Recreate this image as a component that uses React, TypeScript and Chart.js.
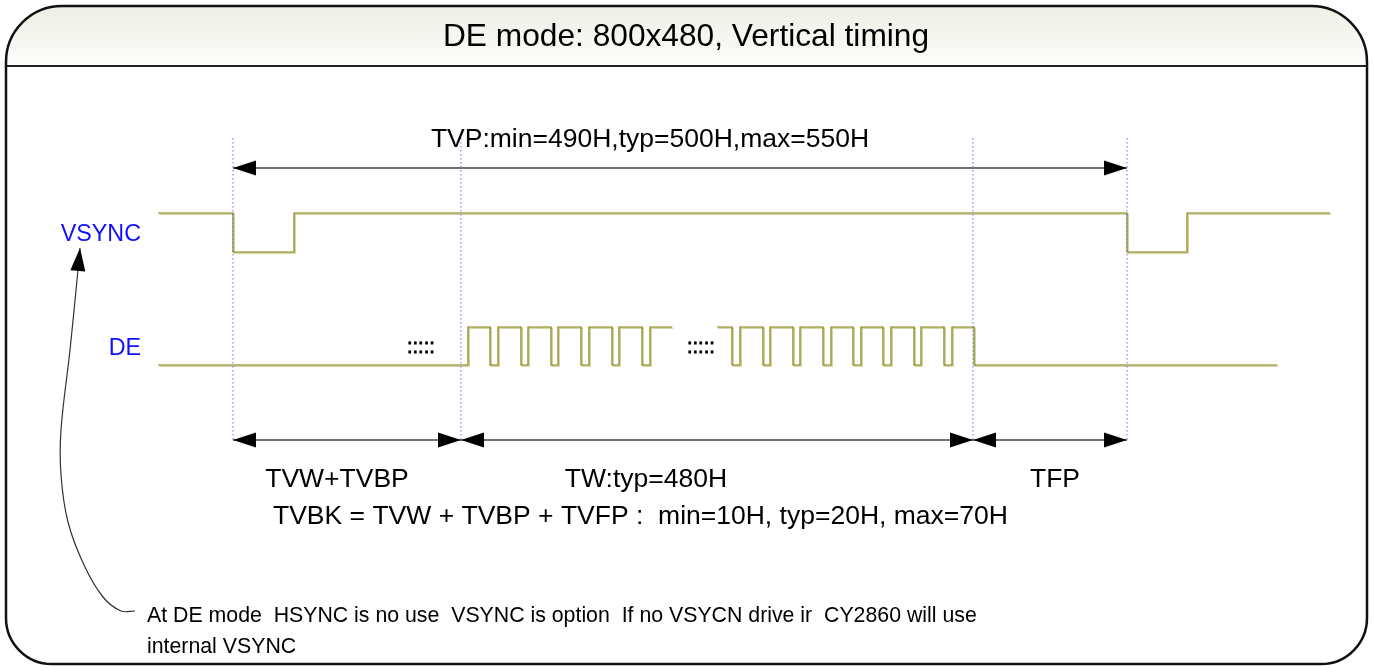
import React, { useEffect, useRef } from "react";
import { Chart, registerables } from "chart.js";

Chart.register(...registerables);

// ---------------- data ----------------
const titleText = "DE mode: 800x480, Vertical timing";
const signalNames = ["VSYNC", "DE"];

// VSYNC: transition times and the level that starts at each time
const vsyncEdges = [158, 233, 294, 1127, 1187, 1330];
const vsyncLevels = [1, 0, 1, 0, 1, 1];

// DE: first burst of lines (before the ellipsis)
const deEdgesA = [158, 468, 490, 498, 521, 528, 551, 558, 581, 589, 612, 619, 642, 650, 672];
const deLevelsA = [0, 1, 0, 1, 0, 1, 0, 1, 0, 1, 0, 1, 0, 1, 1];
// DE: second burst (after the ellipsis) and front porch
const deEdgesB = [717, 732, 740, 763, 770, 793, 800, 823, 831, 853, 861, 883, 891, 914, 921, 944, 952, 974, 1277];
const deLevelsB = [1, 0, 1, 0, 1, 0, 1, 0, 1, 0, 1, 0, 1, 0, 1, 0, 1, 0, 0];

// boundaries between phases
const markerTimes = [233, 461, 973, 1127];
const periodSpan = [233, 1127];
const phaseSpans = [
  [233, 461],
  [461, 973],
  [973, 1127],
];
const periodLabel = "TVP:min=490H,typ=500H,max=550H";
const phaseLabels = ["TVW+TVBP", "TW:typ=480H", "TFP"];
const blankingFormula = "TVBK = TVW + TVBP + TVFP :  min=10H, typ=20H, max=70H";
const ellipsisRow = ".....";
const ellipsisTimes = [407, 687];
const noteLines = [
  "At DE mode  HSYNC is no use  VSYNC is option  If no VSYCN drive ir  CY2860 will use",
  "internal VSYNC",
];
// leader curve from the note up to the VSYNC label (tip first)
const noteCurveX = [80, 77, 70, 61, 61, 68, 84, 103, 121, 135];
const noteCurveY = [248, 280, 350, 430, 475, 522, 565, 597, 611, 611];

// ---------------- layout ----------------
const W = 1374;
const H = 666;
const LANES = {
  VSYNC: { high: 213, low: 252 },
  DE: { high: 327, low: 365 },
};
const MARKER_TOP = 138;
const PERIOD_Y = 168;
const PHASE_Y = 440;
const FONT = "'Liberation Sans', Arial, sans-serif";
const WAVE = "#80800c";
const WAVE_SHADOW = "rgba(190,190,120,0.85)";
const ARROW_LINE = "#707070";

function wave(edges: number[], levels: number[], lane: { high: number; low: number }) {
  return edges.map((x, i) => ({ x, y: levels[i] ? lane.high : lane.low }));
}

function framePath(ctx: CanvasRenderingContext2D, l: number, t: number, r: number, b: number, rt: number, rb: number) {
  ctx.beginPath();
  ctx.moveTo(l + rt, t);
  ctx.lineTo(r - rt, t);
  ctx.arcTo(r, t, r, t + rt, rt);
  ctx.lineTo(r, b - rb);
  ctx.arcTo(r, b, r - rb, b, rb);
  ctx.lineTo(l + rb, b);
  ctx.arcTo(l, b, l, b - rb, rb);
  ctx.lineTo(l, t + rt);
  ctx.arcTo(l, t, l + rt, t, rt);
  ctx.closePath();
}

function drawHead(ctx: CanvasRenderingContext2D, tx: number, ty: number, fx: number, fy: number) {
  const len = 23;
  const half = 7.5;
  let dx = tx - fx;
  let dy = ty - fy;
  const d = Math.hypot(dx, dy) || 1;
  dx /= d;
  dy /= d;
  const bx = tx - dx * len;
  const by = ty - dy * len;
  ctx.beginPath();
  ctx.moveTo(tx, ty);
  ctx.lineTo(bx - dy * half, by + dx * half);
  ctx.lineTo(bx + dy * half, by - dx * half);
  ctx.closePath();
  ctx.fillStyle = "#000";
  ctx.fill();
}

const framePlugin = {
  id: "frame",
  beforeDraw(chart: any) {
    const ctx: CanvasRenderingContext2D = chart.ctx;
    const l = 6, t = 6, r = 1367, b = 664, hb = 66;
    ctx.save();
    ctx.fillStyle = "#fff";
    ctx.fillRect(0, 0, chart.width, chart.height);
    framePath(ctx, l, t, r, b, 56, 46);
    ctx.fillStyle = "#fff";
    ctx.fill();
    ctx.save();
    framePath(ctx, l, t, r, b, 56, 46);
    ctx.clip();
    const g = ctx.createLinearGradient(0, t, 0, hb);
    g.addColorStop(0, "#eeefe5");
    g.addColorStop(1, "#fdfdfb");
    ctx.fillStyle = g;
    ctx.fillRect(l, t, r - l, hb - t);
    ctx.restore();
    ctx.beginPath();
    ctx.moveTo(l, hb);
    ctx.lineTo(r, hb);
    ctx.lineWidth = 2;
    ctx.strokeStyle = "#222";
    ctx.stroke();
    framePath(ctx, l, t, r, b, 56, 46);
    ctx.lineWidth = 2.5;
    ctx.strokeStyle = "#111";
    ctx.stroke();
    ctx.restore();
  },
};

const shadowPlugin = {
  id: "waveShadow",
  beforeDatasetDraw(chart: any, args: any) {
    const ds = chart.data.datasets[args.index];
    if (!ds.waveShadow) return;
    const ctx = chart.ctx;
    ctx.save();
    ctx.shadowColor = WAVE_SHADOW;
    ctx.shadowOffsetX = 1.2;
    ctx.shadowOffsetY = 1.2;
    ctx.shadowBlur = 0;
  },
  afterDatasetDraw(chart: any, args: any) {
    const ds = chart.data.datasets[args.index];
    if (!ds.waveShadow) return;
    chart.ctx.restore();
  },
};

const annotatePlugin = {
  id: "annotate",
  afterDatasetsDraw(chart: any) {
    const ctx: CanvasRenderingContext2D = chart.ctx;
    const sx = chart.scales.x;
    const sy = chart.scales.y;
    const px = (v: number) => sx.getPixelForValue(v);
    const py = (v: number) => sy.getPixelForValue(v);

    // arrow heads
    chart.data.datasets.forEach((ds: any, i: number) => {
      const pts = chart.getDatasetMeta(i).data;
      if (!pts || pts.length < 2) return;
      if (ds.arrowStart) drawHead(ctx, pts[0].x, pts[0].y, pts[1].x, pts[1].y);
      if (ds.arrowEnd) {
        const n = pts.length;
        drawHead(ctx, pts[n - 1].x, pts[n - 1].y, pts[n - 2].x, pts[n - 2].y);
      }
    });

    ctx.save();
    ctx.textBaseline = "alphabetic";
    // title
    ctx.fillStyle = "#000";
    ctx.font = `31.7px ${FONT}`;
    ctx.textAlign = "center";
    ctx.fillText(titleText, 686, 46);

    // signal names
    ctx.fillStyle = "#1010ff";
    ctx.font = `23.3px ${FONT}`;
    ctx.textAlign = "right";
    ctx.fillText(signalNames[0], 141, 241);
    ctx.fillText(signalNames[1], 141, 355);

    // period label
    ctx.fillStyle = "#000";
    ctx.font = `26.5px ${FONT}`;
    ctx.textAlign = "center";
    ctx.fillText(periodLabel, 650, 147);

    // phase labels
    const phaseCenters = [337, 646, 1055];
    phaseLabels.forEach((s, i) => ctx.fillText(s, phaseCenters[i], 487));

    // formula
    ctx.textAlign = "left";
    ctx.fillText(blankingFormula, 273, 524);

    // ellipsis: two rows of dots
    ctx.font = `20px ${FONT}`;
    ctx.strokeStyle = "#000";
    ctx.lineWidth = 0.8;
    ellipsisTimes.forEach((x) => {
      [344, 353].forEach((yy) => {
        ctx.fillText(ellipsisRow, px(x), py(yy));
        ctx.strokeText(ellipsisRow, px(x), py(yy));
      });
    });

    // note
    ctx.font = `21.3px ${FONT}`;
    ctx.fillText(noteLines[0], 147, 622);
    ctx.fillText(noteLines[1], 147, 653);
    ctx.restore();
  },
};

export default function App() {
  const ref = useRef<HTMLCanvasElement | null>(null);

  useEffect(() => {
    if (!ref.current) return;
    const datasets: any[] = [];

    // phase markers (dotted)
    markerTimes.forEach((x) => {
      datasets.push({
        data: [
          { x, y: MARKER_TOP },
          { x, y: PHASE_Y },
        ],
        borderColor: "#6a6aff",
        borderWidth: 1,
        borderDash: [1.5, 2.5],
      });
    });

    // waveforms
    datasets.push({
      label: signalNames[0],
      data: wave(vsyncEdges, vsyncLevels, LANES.VSYNC),
      borderColor: WAVE,
      borderWidth: 1.2,
      stepped: true,
      waveShadow: true,
    });
    datasets.push({
      label: signalNames[1],
      data: wave(deEdgesA, deLevelsA, LANES.DE),
      borderColor: WAVE,
      borderWidth: 1.2,
      stepped: true,
      waveShadow: true,
    });
    datasets.push({
      label: signalNames[1],
      data: wave(deEdgesB, deLevelsB, LANES.DE),
      borderColor: WAVE,
      borderWidth: 1.2,
      stepped: true,
      waveShadow: true,
    });

    // period arrow
    datasets.push({
      data: [
        { x: periodSpan[0], y: PERIOD_Y },
        { x: periodSpan[1], y: PERIOD_Y },
      ],
      borderColor: ARROW_LINE,
      borderWidth: 2,
      arrowStart: true,
      arrowEnd: true,
    });
    // phase arrows
    phaseSpans.forEach(([a, b]) => {
      datasets.push({
        data: [
          { x: a, y: PHASE_Y },
          { x: b, y: PHASE_Y },
        ],
        borderColor: ARROW_LINE,
        borderWidth: 2,
        arrowStart: true,
        arrowEnd: true,
      });
    });
    // note leader curve
    datasets.push({
      data: noteCurveX.map((x, i) => ({ x, y: noteCurveY[i] })),
      borderColor: "#333",
      borderWidth: 1.2,
      tension: 0.35,
      arrowStart: true,
    });

    const chart = new Chart(ref.current, {
      type: "line",
      data: { datasets },
      options: {
        animation: false,
        responsive: true,
        maintainAspectRatio: false,
        layout: { padding: 0 },
        elements: { point: { radius: 0, hoverRadius: 0 } },
        events: [],
        scales: {
          x: { type: "linear", min: 0, max: W, display: false },
          y: { type: "linear", min: 0, max: H, reverse: true, display: false },
        },
        plugins: {
          legend: { display: false },
          tooltip: { enabled: false },
        },
      },
      plugins: [framePlugin, shadowPlugin, annotatePlugin],
    } as any);
    return () => chart.destroy();
  }, []);

  return (
    <div style={{ position: "fixed", left: 0, top: 0, width: W, height: H, background: "#fff" }}>
      <canvas ref={ref} />
    </div>
  );
}
